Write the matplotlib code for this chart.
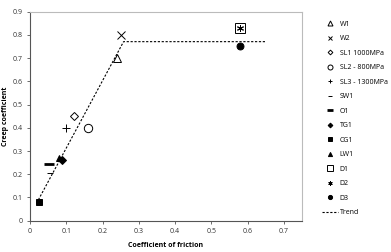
import matplotlib
matplotlib.use("Agg")
from matplotlib import pyplot as plt

plt.rcParams['font.family'] = ['Open Sans', 'DejaVu Sans']

labels = ["W1", "W2", "SL1 1000MPa", "SL2 - 800MPa", "SL3 - 1300MPa", "SW1",
          "O1", "TG1", "CG1", "LW1", "D1", "D2", "D3"]
friction = [0.24, 0.25, 0.12, 0.16, 0.10, 0.055, 0.053, 0.087, 0.024, 0.08, 0.58, 0.58, 0.58]
creep = [0.70, 0.80, 0.45, 0.40, 0.40, 0.205, 0.243, 0.26, 0.08, 0.268, 0.83, 0.83, 0.754]

trend_x = [0.018, 0.258, 0.652]
trend_y = [0.075, 0.771, 0.771]

# marker style, size, fill
styles = [("^", 6, "none"), ("x", 6, "none"), ("D", 4, "none"), ("o", 6, "none"),
          ("+", 6, "none"), ("_", 4, "none"), ("_", 7, "none"), ("D", 4, "k"),
          ("s", 5, "k"), ("^", 5, "k"), ("s", 7, "none"), ((6, 2, 0), 5, "none"),
          ("o", 5, "k")]

fig = plt.figure(figsize=(3.91, 2.52), dpi=100)
ax = fig.add_axes([30/391, 1 - 220.7/252, (302-30)/391, (220.7-11.7)/252])

for lab, x, y, (m, s, fc) in zip(labels, friction, creep, styles):
    lw = 2 if lab == "O1" else 0.7
    ax.plot([x], [y], linestyle="none", marker=m, markersize=s, markerfacecolor=fc,
            markeredgecolor="k", markeredgewidth=lw, color="k", label=lab)

ax.plot(trend_x, trend_y, 'k--', linewidth=0.8, dashes=(2, 1.5), label="Trend")

ax.set_xlim(0, 0.75)
ax.set_ylim(0, 0.9)
ax.set_xticks([0, 0.1, 0.2, 0.3, 0.4, 0.5, 0.6, 0.7])
ax.set_xticklabels(["0", "0.1", "0.2", "0.3", "0.4", "0.5", "0.6", "0.7"])
ax.set_yticks([0, 0.1, 0.2, 0.3, 0.4, 0.5, 0.6, 0.7, 0.8, 0.9])
ax.set_yticklabels(["0", "0.1", "0.2", "0.3", "0.4", "0.5", "0.6", "0.7", "0.8", "0.9"])
ax.tick_params(labelsize=5, colors="#555555", length=2, width=0.6, labelcolor="#333333")
ax.set_xlabel("Coefficient of friction", fontsize=5, fontweight="bold", labelpad=5)
ax.set_ylabel("Creep coefficient", fontsize=5, fontweight="bold", labelpad=2)
for side in ["left", "bottom"]:
    ax.spines[side].set_color("#555555")
    ax.spines[side].set_linewidth(0.8)
for side in ["top", "right"]:
    ax.spines[side].set_color("#bbbbbb")
    ax.spines[side].set_linewidth(0.8)

ax.legend(loc="upper left", bbox_to_anchor=(1.065, 0.97), frameon=False, fontsize=5,
          handlelength=2.2, labelspacing=1.08, handletextpad=0.3, borderaxespad=0,
          markerscale=0.6)

fig.savefig("out.png", dpi=100)
